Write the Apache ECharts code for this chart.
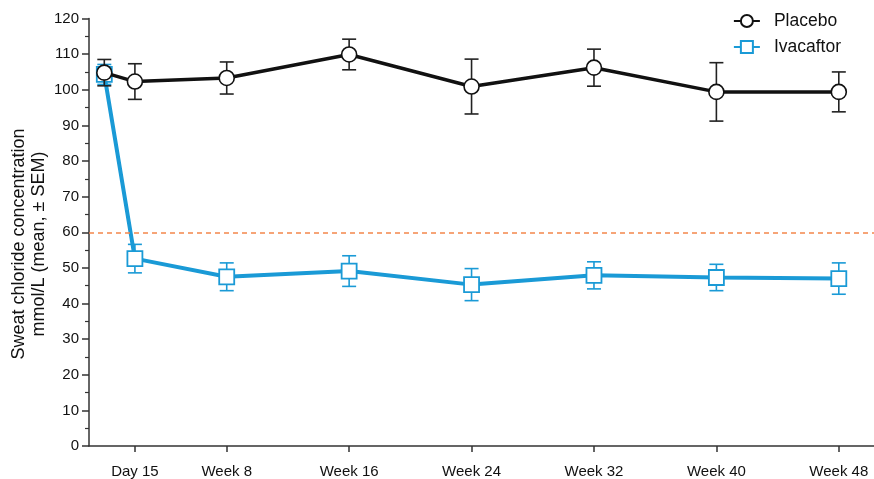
<!DOCTYPE html>
<html>
<head>
<meta charset="utf-8">
<script src="https://cdn.jsdelivr.net/npm/echarts@6/dist/echarts.min.js"></script>
<style>
  html, body { margin: 0; padding: 0; background: #fff; }
  #chart { width: 874px; height: 479px; }
</style>
</head>
<body>
<div id="chart"></div>
<script>
// Visit time in weeks (baseline = 0, Day 15 plotted at week 2)
const weeks = [0, 2, 8, 16, 24, 32, 40, 48];
const tickLabels = ['', 'Day 15', 'Week 8', 'Week 16', 'Week 24', 'Week 32', 'Week 40', 'Week 48'];

// Sweat chloride, mmol/L (mean and SEM)
const placeboMean = [104.8, 102.3, 103.3, 109.9, 100.9, 106.2, 99.4, 99.4];
const placeboSem  = [3.7, 5.0, 4.5, 4.3, 7.7, 5.2, 8.2, 5.6];
const ivaMean     = [104.3, 52.6, 47.5, 49.1, 45.3, 47.9, 47.3, 47.0];
const ivaSem      = [2.8, 4.0, 3.9, 4.3, 4.5, 3.8, 3.7, 4.4];

const threshold = 60;

const BLUE = '#1a9ad6';
const BLACK = '#111111';
const FONT = '"Liberation Sans", Arial, sans-serif';

const labelWeeks = weeks.slice(1);

function pairs(means) {
  return weeks.map((w, i) => [w, means[i]]);
}
function bars(means, sems) {
  return weeks.map((w, i) => [w, means[i] - sems[i], means[i] + sems[i]]);
}

function errorBarRenderer(color) {
  return function (params, api) {
    const x = api.value(0);
    const lo = api.coord([x, api.value(1)]);
    const hi = api.coord([x, api.value(2)]);
    const half = 7;
    const style = { stroke: color, lineWidth: 1.6, fill: null };
    return {
      type: 'group',
      children: [
        { type: 'line', shape: { x1: lo[0], y1: lo[1], x2: hi[0], y2: hi[1] }, style },
        { type: 'line', shape: { x1: lo[0] - half, y1: lo[1], x2: lo[0] + half, y2: lo[1] }, style },
        { type: 'line', shape: { x1: hi[0] - half, y1: hi[1], x2: hi[0] + half, y2: hi[1] }, style }
      ]
    };
  };
}

const chart = echarts.init(document.getElementById('chart'), null, { renderer: 'canvas' });

chart.setOption({
  animation: false,
  backgroundColor: '#ffffff',
  textStyle: { fontFamily: FONT },
  grid: { left: 89, right: 0, top: 18.5, bottom: 33, containLabel: false, outerBoundsMode: 'none' },
  legend: {
    orient: 'vertical',
    right: 28,
    top: 7,
    itemWidth: 26,
    itemHeight: 15,
    itemGap: 8,
    data: ['Placebo', 'Ivacaftor'],
    textStyle: { fontSize: 17.5, color: '#111', fontFamily: FONT, padding: [0, 0, 0, 9] }
  },
  graphic: [
    {
      type: 'text',
      x: 9, y: 244,
      rotation: Math.PI / 2,
      style: {
        text: 'Sweat chloride concentration\nmmol/L (mean, \u00b1 SEM)',
        font: '18px ' + FONT,
        fill: '#111',
        align: 'center',
        verticalAlign: 'top',
        lineHeight: 20
      }
    }
  ],
  xAxis: {
    type: 'value',
    min: -1,
    max: 50.3,
    axisLine: { show: true, onZero: false, lineStyle: { color: '#333', width: 1.5 } },
    axisTick: {
      show: true, length: 6, inside: false,
      customValues: labelWeeks,
      lineStyle: { color: '#333', width: 1.5 }
    },
    axisLabel: {
      show: true,
      customValues: labelWeeks,
      margin: 18,
      fontSize: 15,
      color: '#111',
      fontFamily: FONT,
      formatter: function (v) {
        const i = weeks.indexOf(v);
        return i >= 0 ? tickLabels[i] : '';
      }
    },
    splitLine: { show: false }
  },
  yAxis: {
    type: 'value',
    min: 0,
    max: 120,
    interval: 10,
    axisLine: { show: true, onZero: false, lineStyle: { color: '#333', width: 1.5 } },
    axisTick: { show: true, length: 7, lineStyle: { color: '#333', width: 1.5 } },
    minorTick: { show: true, splitNumber: 2, length: 4, lineStyle: { color: '#333', width: 1.2 } },
    axisLabel: { fontSize: 15, color: '#111', margin: 10, fontFamily: FONT },
    splitLine: { show: false }
  },
  series: [
    {
      name: 'Ivacaftor',
      type: 'line',
      data: pairs(ivaMean),
      symbol: 'rect',
      symbolSize: 15,
      showAllSymbol: true,
      z: 3,
      lineStyle: { color: BLUE, width: 4 },
      itemStyle: { color: '#ffffff', borderColor: BLUE, borderWidth: 1.8 },
      markLine: {
        silent: true,
        symbol: 'none',
        label: { show: false },
        lineStyle: { color: '#f4874b', type: [5, 4], width: 1.6 },
        data: [{ yAxis: threshold }]
      }
    },
    {
      name: 'Ivacaftor SEM',
      type: 'custom',
      data: bars(ivaMean, ivaSem),
      renderItem: errorBarRenderer(BLUE),
      encode: { x: 0, y: [1, 2] },
      z: 2
    },
    {
      name: 'Placebo',
      type: 'line',
      data: pairs(placeboMean),
      symbol: 'circle',
      symbolSize: 15,
      showAllSymbol: true,
      z: 5,
      lineStyle: { color: BLACK, width: 3.5 },
      itemStyle: { color: '#ffffff', borderColor: BLACK, borderWidth: 1.6 }
    },
    {
      name: 'Placebo SEM',
      type: 'custom',
      data: bars(placeboMean, placeboSem),
      renderItem: errorBarRenderer('#222'),
      encode: { x: 0, y: [1, 2] },
      z: 4
    }
  ]
});
</script>
</body>
</html>
